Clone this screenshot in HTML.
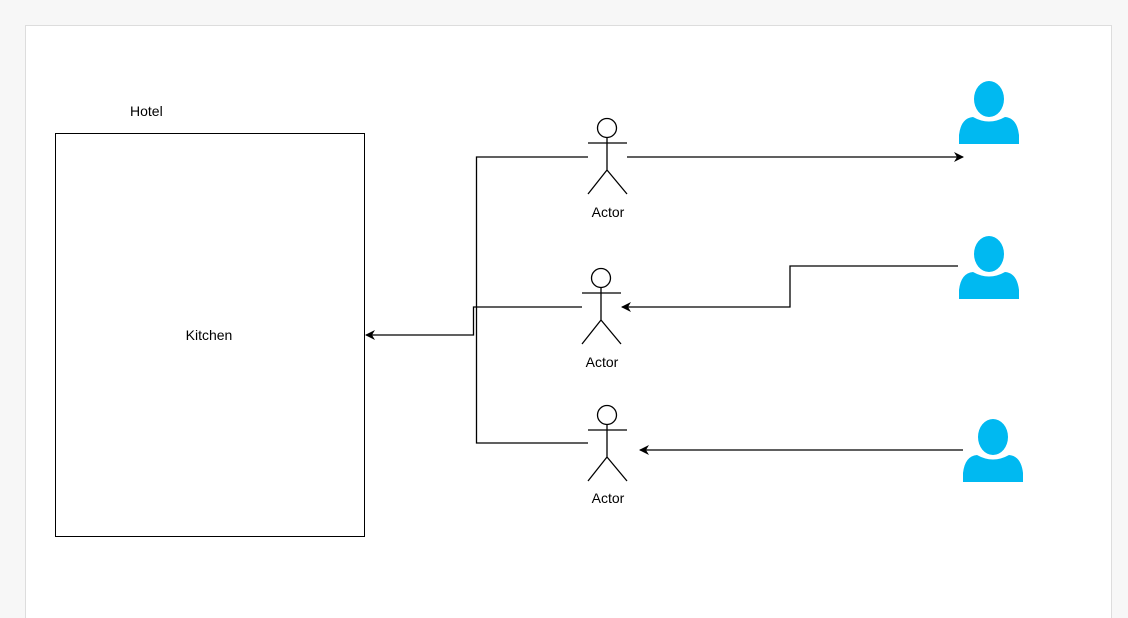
<!DOCTYPE html>
<html><head><style>
html,body{margin:0;padding:0;background:#f7f7f7;width:1128px;height:618px;overflow:hidden}
svg{position:absolute;left:0;top:0}
text{font-family:"Liberation Sans",sans-serif;font-size:14px;fill:#000}
</style></head><body>
<svg width="1128" height="618" viewBox="0 0 1128 618">
<defs><marker id="a" markerWidth="10" markerHeight="10" refX="9" refY="5" orient="auto" markerUnits="userSpaceOnUse"><path d="M0,0 L10,5 L0,10 L3,5 Z" fill="#000"/></marker></defs>
<rect x="25.5" y="25.5" width="1086" height="600" fill="#fff" stroke="#ddd"/>
<rect x="55.5" y="133.5" width="309" height="403" fill="#fff" stroke="#000"/>
<text x="130" y="116">Hotel</text>
<text x="209" y="340" text-anchor="middle">Kitchen</text>
<g fill="none" stroke="#000" stroke-width="1.3">
<path d="M588,157 H476.5 V443 H588"/>
<path d="M582,307 H473.5 V335 H366" marker-end="url(#a)"/>
<path d="M627,157 H963" marker-end="url(#a)"/>
<path d="M958,266 H790 V307 H622" marker-end="url(#a)"/>
<path d="M963,450 H640" marker-end="url(#a)"/>
<g id="act"><circle cx="607" cy="128" r="9.5" fill="#fff"/><path d="M607,138 V170 M588,143 H627 M607,170 L588,194 M607,170 L627,194"/></g>
<use href="#act" x="-6" y="150"/>
<use href="#act" x="0" y="287"/>
</g>
<text x="608" y="217" text-anchor="middle">Actor</text>
<text x="602" y="367" text-anchor="middle">Actor</text>
<text x="608" y="503" text-anchor="middle">Actor</text>
<g fill="#00b9f1" id="p"><ellipse cx="989" cy="99" rx="15" ry="18"/><path d="M959,144 L959,135 Q961,118 973,117 Q989,126 1005,117 Q1017,118 1019,135 L1019,144 Z"/></g>
<use href="#p" x="0" y="155"/>
<use href="#p" x="4" y="338"/>
</svg>
</body></html>
